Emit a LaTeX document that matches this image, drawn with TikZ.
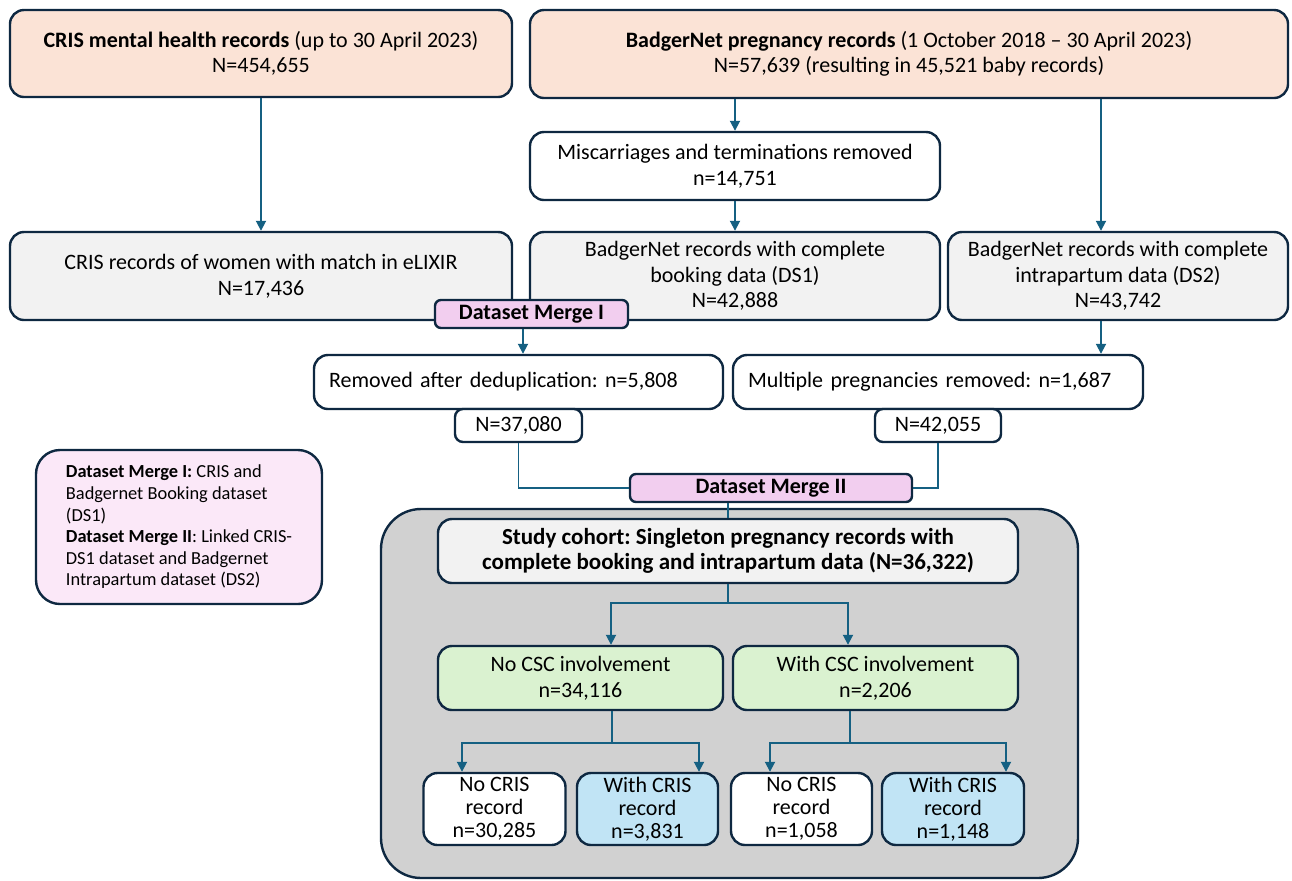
\documentclass[tikz,border=0pt]{standalone}
\usepackage{fontspec}
\setmainfont{Carlito}
\usetikzlibrary{arrows.meta}
\frenchspacing

\definecolor{navy}{HTML}{0E2841}
\definecolor{arrowblue}{HTML}{156082}
\definecolor{peach}{HTML}{FBE3D6}
\definecolor{lightgrey}{HTML}{F2F2F2}
\definecolor{mergepink}{HTML}{F2CEEF}
\definecolor{legendpink}{HTML}{FBE8F8}
\definecolor{cohortgrey}{HTML}{D1D1D1}
\definecolor{cscgreen}{HTML}{DAF2D0}
\definecolor{crisblue}{HTML}{C1E4F5}

\tikzset{
  box/.style={draw=navy, line width=1.2pt, rounded corners=7pt, align=center, inner sep=0pt,
    font=\fontsize{11}{12.8}\selectfont},
  srcbox/.style={box, fill=peach},
  greybox/.style={box, fill=lightgrey},
  whitebox/.style={box, fill=white},
  mergebox/.style={box, fill=mergepink, rounded corners=3pt, font=\fontsize{11}{12}\selectfont\bfseries},
  leafbox/.style={box, minimum width=71pt, minimum height=36pt, font=\fontsize{11}{11.5}\selectfont},
  conn/.style={draw=arrowblue, line width=0.9pt},
}

\begin{document}
\begin{tikzpicture}[x=0.5pt, y=-0.5pt, >={Triangle[length=5pt,width=5pt]}]
  \useasboundingbox (0,0) rectangle (1292,880);

  % Cohort panel
  \node[box, fill=cohortgrey, rounded corners=20pt, minimum width=348.5pt, minimum height=184.5pt] (cohort) at (729.5,693.5) {};

  % Sources
  \node[srcbox, minimum width=251pt, minimum height=43.5pt] (cris) at (261,53.5)
    {\textbf{CRIS mental health records} (up to 30 April 2023)\\N=454,655};
  \node[srcbox, minimum width=379pt, minimum height=44pt] (badger) at (909,54)
    {\textbf{BadgerNet pregnancy records} (1 October 2018 -- 30 April 2023)\\N=57,639 (resulting in 45,521 baby records)};
  \node[whitebox, minimum width=205pt, minimum height=34pt] (miscarr) at (735,166)
    {Miscarriages and terminations removed\\n=14,751};

  % Datasets
  \node[greybox, minimum width=251pt, minimum height=44pt] (crisrec) at (261,276)
    {CRIS records of women with match in eLIXIR\\N=17,436};
  \node[greybox, minimum width=205pt, minimum height=44pt] (ds1) at (735,276)
    {BadgerNet records with complete\\booking data (DS1)\\N=42,888};
  \node[greybox, minimum width=170pt, minimum height=44pt] (ds2) at (1118,276)
    {BadgerNet records with complete\\intrapartum data (DS2)\\N=43,742};
  \node[mergebox, minimum width=96.5pt, minimum height=14pt] (merge1) at (531.5,314) {Dataset Merge I};

  % Exclusions
  \node[whitebox, minimum width=204.5pt, minimum height=27pt, text width=189.5pt, align=left] (dedup) at (518.5,382)
    {Removed after deduplication: n=5,808};
  \node[whitebox, minimum width=205pt, minimum height=27pt, text width=190pt, align=left] (multi) at (938,382)
    {Multiple pregnancies removed: n=1,687};
  \node[whitebox, rounded corners=4pt, minimum width=63.5pt, minimum height=16.5pt] (n1) at (518.5,425.5) {N=37,080};
  \node[whitebox, rounded corners=4pt, minimum width=63pt, minimum height=16.5pt] (n2) at (938,425.5) {N=42,055};
  \node[mergebox, minimum width=141pt, minimum height=14pt] (merge2) at (771,488) {Dataset Merge II};

  % Legend
  \node[box, fill=legendpink, rounded corners=12pt, minimum width=143pt, minimum height=77pt, align=left,
    font=\fontsize{9.2}{10.8}\selectfont] (legend) at (179,527)
    {\textbf{Dataset Merge I:} CRIS and\\Badgernet Booking dataset\\(DS1)\\\textbf{Dataset Merge II}: Linked CRIS-\\DS1 dataset and Badgernet\\Intrapartum dataset (DS2)};

  % Study cohort
  \node[greybox, minimum width=290pt, minimum height=32pt, font=\fontsize{11.5}{12.2}\selectfont\bfseries] (study) at (728,551)
    {Study cohort: Singleton pregnancy records with\\complete booking and intrapartum data (N=36,322)};
  \node[box, fill=cscgreen, minimum width=142.5pt, minimum height=32pt] (nocsc) at (580.5,678) {No CSC involvement\\n=34,116};
  \node[box, fill=cscgreen, minimum width=142.5pt, minimum height=32pt] (wcsc) at (875.5,678) {With CSC involvement\\n=2,206};
  \node[leafbox, fill=white] (b1) at (494.5,809) {No CRIS\\record\\n=30,285};
  \node[leafbox, fill=crisblue, minimum width=70.5pt] (b2) at (647.5,809) {With CRIS\\record\\n=3,831};
  \node[leafbox, fill=white, minimum width=70.5pt] (b3) at (801.5,809) {No CRIS\\record\\n=1,058};
  \node[leafbox, fill=crisblue] (b4) at (953,809) {With CRIS\\record\\n=1,148};

  % Connectors
  \draw[conn, ->] (cris.south) -- (crisrec.north);
  \draw[conn, ->] (miscarr.north |- badger.south) -- (miscarr.north);
  \draw[conn, ->] (miscarr.south) -- (ds1.north);
  \draw[conn, ->] ([xshift=-8.5pt]ds2.north |- badger.south) -- ([xshift=-8.5pt]ds2.north);
  \draw[conn, ->] ([xshift=-4.25pt]merge1.south) -- ([xshift=-4.25pt]merge1.south |- dedup.north);
  \draw[conn, ->] ([xshift=-8.5pt]ds2.south) -- ([xshift=-8.5pt]ds2.south |- multi.north);
  \draw[conn] (n1.south) |- (merge2.west);
  \draw[conn] (n2.south) |- (merge2.east);
  \draw[conn] (study.north |- merge2.south) -- (study.north);
  \draw[conn, ->] (study.south) -- ++(0,19) -| ([xshift=15.25pt]nocsc.north);
  \draw[conn, ->] (study.south) -- ++(0,19) -| ([xshift=-13.75pt]wcsc.north);
  \draw[conn, ->] ([xshift=15.75pt]nocsc.south) -- ++(0,32) -| ([xshift=-16.25pt]b1.north);
  \draw[conn, ->] ([xshift=15.75pt]nocsc.south) -- ++(0,32) -| ([xshift=25.75pt]b2.north);
  \draw[conn, ->] ([xshift=-12.75pt]wcsc.south) -- ++(0,32) -| ([xshift=-15.75pt]b3.north);
  \draw[conn, ->] ([xshift=-12.75pt]wcsc.south) -- ++(0,32) -| ([xshift=26.5pt]b4.north);
\end{tikzpicture}
\end{document}
